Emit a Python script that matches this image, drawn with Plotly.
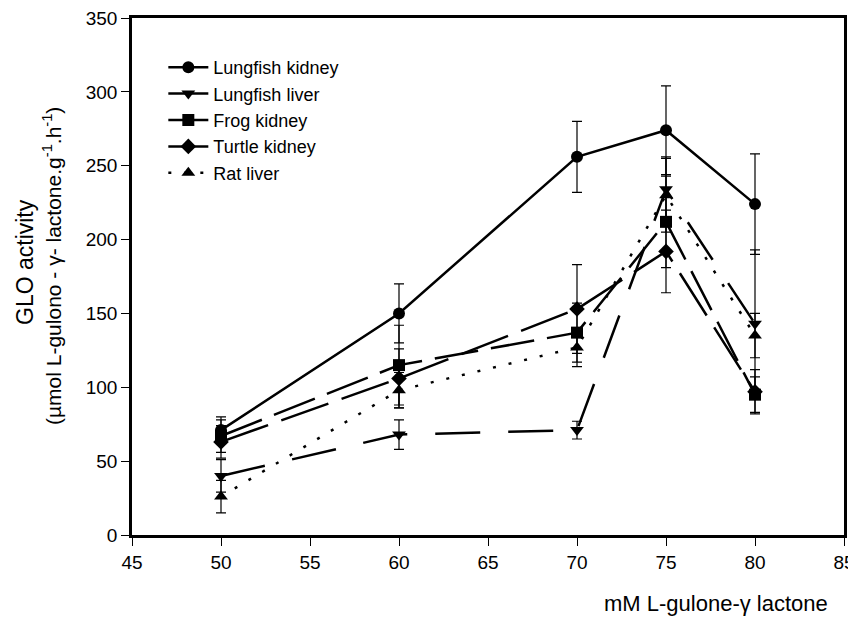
import plotly.graph_objects as go

x_conc = [50, 60, 70, 75, 80]

series_names = ["Lungfish kidney", "Lungfish liver", "Frog kidney", "Turtle kidney", "Rat liver"]

lungfish_kidney = [71, 150, 256, 274, 224]
lungfish_kidney_err = [9, 20, 24, 30, 34]

lungfish_liver = [40, 68, 71, 234, 143]
lungfish_liver_err = [11, 10, 6, 22, 50]

frog_kidney = [67, 115, 137, 212, 95]
frog_kidney_err = [11, 27, 20, 31, 12]

turtle_kidney = [63, 106, 153, 192, 97]
turtle_kidney_err = [11, 20, 30, 28, 15]

rat_liver = [26, 98, 127, 230, 135]
rat_liver_err = [11, 12, 13, 25, 15]

x_ticks = [45, 50, 55, 60, 65, 70, 75, 80, 85]
y_ticks = [0, 50, 100, 150, 200, 250, 300, 350]

values = [lungfish_kidney, lungfish_liver, frog_kidney, turtle_kidney, rat_liver]
errors = [lungfish_kidney_err, lungfish_liver_err, frog_kidney_err, turtle_kidney_err, rat_liver_err]
symbols = ["circle", "triangle-down", "square", "diamond", "triangle-up"]
dashes = ["solid", "45px,28px", "44px,13px", "50px,14px", "3px,13px"]
legend_dashes = ["solid", "solid", "solid", "solid", "3px,13px"]

FONT = "Liberation Sans, Arial, sans-serif"

fig = go.Figure()
for name, v, e, sym, d in zip(series_names, values, errors, symbols, dashes):
    fig.add_trace(go.Scatter(
        x=x_conc, y=v, mode="lines+markers", name=name, showlegend=False,
        line=dict(color="black", width=2.5, dash=d),
        marker=dict(symbol=sym, size=12, color="black"),
        error_y=dict(type="data", array=e, visible=True, color="black", thickness=1.2, width=5),
    ))
for name, sym, d in zip(series_names, symbols, legend_dashes):
    fig.add_trace(go.Scatter(
        x=[None], y=[None], mode="lines+markers", name=name,
        line=dict(color="black", width=2.5, dash=d),
        marker=dict(symbol=sym, size=12, color="black"),
    ))

# page has an 8px body margin; figure is sized so the plot box lands at
# page x 132..844, y 18..535
fig.update_layout(
    width=848, height=609,
    margin=dict(l=124, r=12, t=10, b=82, autoexpand=False),
    paper_bgcolor="white", plot_bgcolor="white",
    font=dict(family=FONT, size=19, color="black"),
    showlegend=True,
    legend=dict(x=0.044, y=0.94, xanchor="left", yanchor="top",
                bgcolor="rgba(0,0,0,0)", font=dict(size=18), tracegroupgap=0,
                itemwidth=40),
    xaxis=dict(range=[45, 85], tickvals=x_ticks, ticks="outside", ticklen=8,
               tickwidth=1, tickcolor="black", showline=True, linewidth=2.5,
               linecolor="black", mirror=True, showgrid=False, zeroline=False,
               tickfont=dict(size=19), automargin=False, ticklabeloverflow="allow"),
    yaxis=dict(range=[0, 350], tickvals=y_ticks, ticks="outside", ticklen=8,
               tickwidth=1, tickcolor="black", showline=True, linewidth=2.5,
               linecolor="black", mirror=True, showgrid=False, zeroline=False,
               tickfont=dict(size=19), automargin=False, ticklabeloverflow="allow"),
    annotations=[
        dict(text="mM L-gulone-γ lactone", x=830, y=603, xref="paper", yref="paper",
             xanchor="right", yanchor="middle", showarrow=False, font=dict(size=22)),
        dict(text="GLO activity", x=25, y=262, textangle=-90, xref="paper", yref="paper",
             xanchor="center", yanchor="middle", showarrow=False, font=dict(size=23)),
        dict(text="(µmol L-gulono - γ- lactone.g<sup>-1</sup>.h<sup>-1</sup>)", x=52, y=266,
             textangle=-90, xref="paper", yref="paper", xanchor="center", yanchor="middle",
             showarrow=False, font=dict(size=21)),
    ],
)

# convert page-pixel positions of annotations to paper coordinates
pl, pr, pt, pb = 132, 844, 18, 535
for a in fig.layout.annotations:
    a.x = (a.x - pl) / (pr - pl)
    a.y = (pb - a.y) / (pb - pt)

fig.write_html("out.html")
